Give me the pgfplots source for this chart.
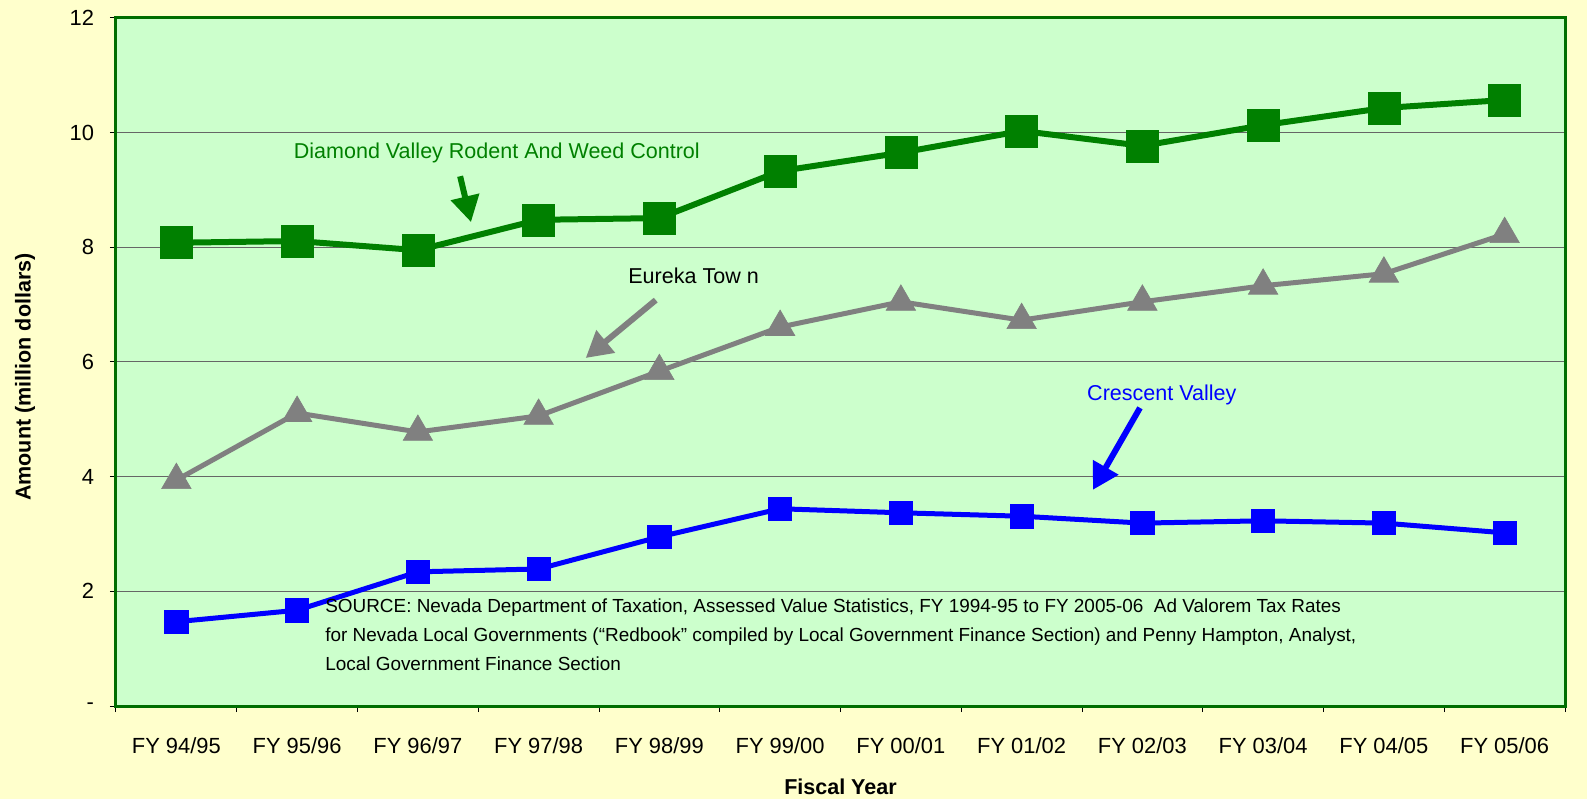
\documentclass[border=0pt]{standalone}
\usepackage{fontspec}
\setmainfont{Liberation Sans}
\usepackage{pgfplots}
\pgfplotsset{compat=1.18}
\usetikzlibrary{arrows.meta}
\definecolor{pagebg}{HTML}{FFFFCC}
\definecolor{plotbg}{HTML}{CCFFCC}
\definecolor{frame}{HTML}{006E00}
\definecolor{dvgreen}{HTML}{008000}
\definecolor{eugray}{HTML}{808080}
\definecolor{cvblue}{HTML}{0000FF}

\pgfplotstableread{
x diamond eureka crescent
0 8.08 3.94 1.47
1 8.11 5.11 1.67
2 7.95 4.78 2.34
3 8.48 5.06 2.39
4 8.51 5.84 2.95
5 9.33 6.61 3.44
6 9.65 7.05 3.37
7 10.03 6.73 3.31
8 9.77 7.05 3.19
9 10.13 7.33 3.23
10 10.43 7.54 3.19
11 10.57 8.23 3.02
}\levytab

\begin{document}
\begin{tikzpicture}
\fill[pagebg] (-58bp,-46.5bp) rectangle (735.5bp,353bp);
\begin{axis}[at={(0,0)}, anchor=south west, scale only axis,
  width=724.5bp, height=344bp,
  xmin=-0.5, xmax=11.5, ymin=0, ymax=12,
  axis background/.style={fill=plotbg},
  axis line style={frame, line width=1.5bp},
  xtick={0,...,11},
  xticklabels={FY 94/95,FY 95/96,FY 96/97,FY 97/98,FY 98/99,FY 99/00,FY 00/01,FY 01/02,FY 02/03,FY 03/04,FY 04/05,FY 05/06},
  major x tick style={draw=none},
  minor xtick={-0.5,0.5,...,11.5},
  ytick={0,2,...,12},
  yticklabels={-\hspace{13bp},2,4,6,8,10,12},
  tick align=outside, tick pos=left,
  major tick length=3bp, minor tick length=3bp,
  tick style={black, line width=0.5bp},
  ymajorgrids, grid style={color=black!60, line width=0.5bp},
  tick label style={font=\fontsize{11}{13}\selectfont},
  /pgf/number format/assume math mode=true,
  xticklabel style={yshift=-9.5bp},
  yticklabel style={xshift=-4.5bp},
  xlabel={\textbf{Fiscal Year}}, ylabel={\textbf{Amount (million dollars)}},
  label style={font=\fontsize{10.8}{12}\selectfont, inner sep=0pt},
  xlabel style={at={(axis description cs:0.5,-0.117)}, anchor=center},
  ylabel style={at={(axis description cs:-0.0628,0.478)}, anchor=center},
  clip=false]
\addplot[dvgreen, line width=3bp, mark=square*, mark size=8bp, mark options={solid, line width=0.3bp}] table[x=x, y=diamond] {\levytab};
\addplot[eugray, line width=2.5bp, mark=triangle*, mark size=8.5bp, mark options={solid, line width=0.3bp}] table[x=x, y=eureka] {\levytab};
\addplot[cvblue, line width=2.5bp, mark=square*, mark size=5.8bp, mark options={solid, line width=0.3bp}] table[x=x, y=crescent] {\levytab};

\node[anchor=west, text=dvgreen, font=\fontsize{10.8}{12}\selectfont, inner sep=0pt] at (axis cs:0.97,9.65) {Diamond Valley Rodent And Weed Control};
\draw[dvgreen, line width=3bp, -{Triangle[length=13bp, width=14bp]}] (axis cs:2.35,9.24) -- (axis cs:2.44,8.44);
\node[anchor=west, text=black, font=\fontsize{10.8}{12}\selectfont, inner sep=0pt] at (axis cs:3.74,7.5) {Eureka Tow n};
\draw[eugray, line width=3bp, -{Triangle[length=13bp, width=14bp]}] (axis cs:3.97,7.08) -- (axis cs:3.39,6.07);
\node[anchor=west, text=cvblue, font=\fontsize{10.8}{12}\selectfont, inner sep=0pt] at (axis cs:7.54,5.42) {Crescent Valley};
\draw[cvblue, line width=3bp, -{Triangle[length=13bp, width=14bp]}] (axis cs:7.98,5.20) -- (axis cs:7.59,3.77);
\node[anchor=north west, align=left, text=black, font=\fontsize{9.5}{14.7}\selectfont, inner sep=0pt] at (axis cs:1.23,1.88) {SOURCE: Nevada Department of Taxation, Assessed Value Statistics, FY 1994-95 to FY 2005-06\ \ Ad Valorem Tax Rates\\for Nevada Local Governments (“Redbook” compiled by Local Government Finance Section) and Penny Hampton, Analyst,\\Local Government Finance Section};
\end{axis}
\end{tikzpicture}
\end{document}
